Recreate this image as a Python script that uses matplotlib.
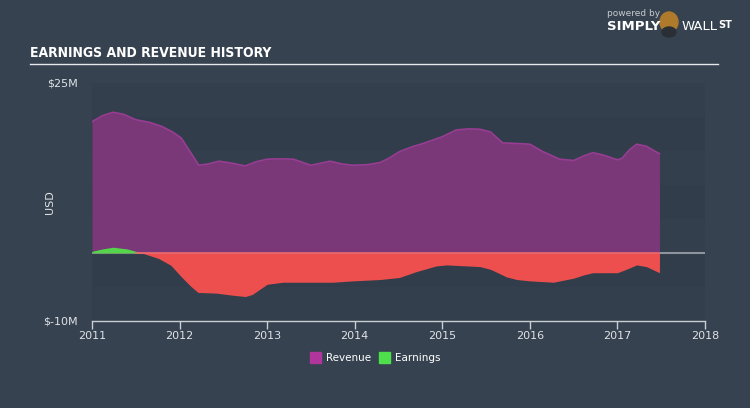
import matplotlib.pyplot as plt
from matplotlib.patches import Rectangle, Ellipse

# revenue and earnings, USD millions
rev_t = [2011.0, 2011.12, 2011.24, 2011.36, 2011.5, 2011.66, 2011.8, 2011.92, 2012.02, 2012.13,
         2012.22, 2012.33, 2012.45, 2012.6, 2012.75, 2012.87, 2013.0, 2013.15, 2013.3, 2013.5,
         2013.72, 2013.85, 2013.98, 2014.15, 2014.29, 2014.4, 2014.51, 2014.65, 2014.78, 2015.0,
         2015.16, 2015.3, 2015.43, 2015.55, 2015.69, 2015.85, 2016.0, 2016.15, 2016.34, 2016.5,
         2016.62, 2016.72, 2016.84, 2017.0, 2017.05, 2017.14, 2017.22, 2017.33, 2017.48]
rev = [19.3, 20.2, 20.7, 20.4, 19.6, 19.2, 18.6, 17.8, 16.9, 14.7,
       12.9, 13.1, 13.5, 13.2, 12.8, 13.4, 13.8, 13.85, 13.8, 12.9,
       13.5, 13.1, 12.9, 13.0, 13.3, 14.0, 14.9, 15.6, 16.1, 17.1,
       18.1, 18.25, 18.2, 17.8, 16.2, 16.1, 16.0, 14.9, 13.8, 13.6,
       14.3, 14.75, 14.4, 13.7, 13.9, 15.2, 16.0, 15.7, 14.6]

earn_t = [2011.0, 2011.12, 2011.24, 2011.4, 2011.57, 2011.76, 2011.9, 2012.02, 2012.12, 2012.21,
          2012.42, 2012.6, 2012.75, 2012.83, 2012.92, 2013.0, 2013.18, 2013.45, 2013.75, 2013.98,
          2014.29, 2014.51, 2014.7, 2014.93, 2015.05, 2015.43, 2015.55, 2015.65, 2015.73, 2015.85,
          2016.0, 2016.27, 2016.5, 2016.62, 2016.72, 2017.0, 2017.1, 2017.22, 2017.33, 2017.48]
earn = [0.25, 0.6, 0.85, 0.6, 0.0, -0.8, -1.8, -3.5, -4.8, -5.8,
        -5.9, -6.2, -6.4, -6.1, -5.3, -4.6, -4.3, -4.3, -4.3, -4.1,
        -3.9, -3.6, -2.75, -1.9, -1.75, -2.0, -2.4, -3.0, -3.5, -3.9,
        -4.1, -4.3, -3.7, -3.2, -2.9, -2.9, -2.4, -1.75, -2.0, -2.9]

years = [2011, 2012, 2013, 2014, 2015, 2016, 2017, 2018]

bg = '#36424f'
fig = plt.figure(figsize=(7.5, 4.08), dpi=100, facecolor=bg)
ax = fig.add_axes([92/750, 87/408, 613/750, 238/408])
ax.set_facecolor('#323e4b')
ax.set_xlim(2011, 2018)
ax.set_ylim(-10, 25)

# subtle alternating bands
for i, lo in enumerate(range(-10, 25, 5)):
    col = '#333f4c' if i % 2 == 0 else '#313d4a'
    ax.add_patch(Rectangle((2011, lo), 7, 5, color=col, lw=0, zorder=0))

ax.axhline(0, color='#8c959e', lw=1.5, zorder=1)
ax.fill_between(rev_t, 0, rev, color='#7a3878', lw=0, zorder=2)
ax.plot(rev_t, rev, color='#983d93', lw=1.2, zorder=3)
ax.fill_between(earn_t, 0, earn, where=[e <= 0 for e in earn], interpolate=True,
                color='#ec4f4e', lw=0, zorder=2)
ax.fill_between(earn_t, 0, earn, where=[e >= 0 for e in earn], interpolate=True,
                color='#55d64a', lw=0, zorder=2)
ax.plot([2011.5, 2017.48], [0, 0], color='#f06a6a', lw=1.2, zorder=3)

for s in ['top', 'right', 'left']:
    ax.spines[s].set_visible(False)
ax.spines['bottom'].set_color('#c9ced4')
ax.spines['bottom'].set_linewidth(1)
ax.set_xticks(years)
ax.set_xticklabels([str(y) for y in years])
ax.tick_params(axis='x', colors='#c9ced4', length=6, width=1, labelsize=8, pad=1,
               labelcolor='#dfe3e7')
ax.set_yticks([25, -10])
ax.set_yticklabels(['$25M', '$-10M'])
ax.tick_params(axis='y', length=0, labelsize=8, labelcolor='#dfe3e7', pad=10)
ax.set_ylabel('USD', color='#dfe3e7', fontsize=8)
ax.yaxis.set_label_coords(-37/613, 0.5)

# header
fig.text(30/750, 1 - 53/408, 'EARNINGS AND REVENUE HISTORY', color='white', fontsize=10,
         fontweight='bold', fontstretch='condensed', va='center', ha='left')
fig.add_artist(plt.Line2D([30/750, 718/750], [1 - 64/408, 1 - 64/408], color='#e6e9ec', lw=1))
fig.text(607/750, 1 - 14/408, 'powered by', color='#c5cad0', fontsize=6.5, va='center')
fig.text(607/750, 1 - 27/408, 'SIMPLY', color='white', fontsize=9.5, fontweight='bold', va='center')
fig.add_artist(Ellipse((669/750, 1 - 22/408), 18/750, 20/408, color='#b07a2c',
                       transform=fig.transFigure))
fig.add_artist(Ellipse((669/750, 1 - 32/408), 14/750, 10/408, color='#2a2f36',
                       transform=fig.transFigure))
fig.text(682/750, 1 - 27/408, 'WALL', color='white', fontsize=9.5, va='center')
fig.text(718/750, 1 - 25/408, 'ST', color='white', fontsize=7, fontweight='bold', va='center')

# legend
fig.add_artist(Rectangle((310/750, 1 - 363/408), 11/750, 11/408, color='#b0369b',
                         transform=fig.transFigure))
fig.text(326/750, 1 - 358/408, 'Revenue', color='white', fontsize=7.5, va='center')
fig.add_artist(Rectangle((379/750, 1 - 363/408), 11/750, 11/408, color='#4ee04a',
                         transform=fig.transFigure))
fig.text(395/750, 1 - 358/408, 'Earnings', color='white', fontsize=7.5, va='center')

fig.savefig('out.png', dpi=100, facecolor=bg)
